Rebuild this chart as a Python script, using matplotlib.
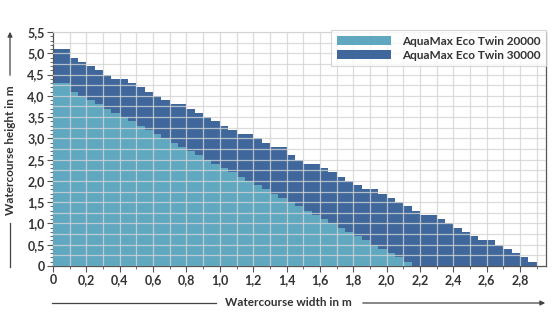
import numpy as np
import matplotlib
matplotlib.use("Agg")
import matplotlib.pyplot as plt
from matplotlib.lines import Line2D
from matplotlib.patches import FancyArrowPatch
from matplotlib.ticker import MultipleLocator, FuncFormatter

plt.rcParams['font.family'] = ['Lato', 'DejaVu Sans']

# step width of the staircase (m)
STEP = 0.05

# AquaMax Eco Twin 20000 - max height per 5 cm width step
twin_20000 = [4.3, 4.3, 4.1, 4.0, 3.9, 3.8, 3.7, 3.6, 3.5, 3.4, 3.3, 3.2, 3.1,
              3.0, 2.9, 2.8, 2.7, 2.6, 2.5, 2.4, 2.3, 2.2, 2.1, 2.0, 1.9, 1.8,
              1.7, 1.6, 1.5, 1.4, 1.3, 1.2, 1.1, 1.0, 0.9, 0.8, 0.7, 0.6, 0.5,
              0.4, 0.3, 0.2, 0.1]

# AquaMax Eco Twin 30000
twin_30000 = [5.1, 5.1, 4.9, 4.8, 4.7, 4.6, 4.5, 4.4, 4.4, 4.3, 4.2, 4.1, 4.0,
              3.9, 3.8, 3.8, 3.7, 3.6, 3.5, 3.4, 3.3, 3.2, 3.1, 3.1, 3.0, 2.9,
              2.8, 2.8, 2.6, 2.5, 2.4, 2.4, 2.3, 2.2, 2.1, 2.0, 1.9, 1.8, 1.8,
              1.7, 1.6, 1.5, 1.4, 1.3, 1.2, 1.2, 1.1, 1.0, 0.9, 0.8, 0.7, 0.6,
              0.6, 0.5, 0.4, 0.3, 0.2, 0.1]

labels = ["AquaMax Eco Twin 20000", "AquaMax Eco Twin 30000"]
x_ticks = [0, 0.2, 0.4, 0.6, 0.8, 1.0, 1.2, 1.4, 1.6, 1.8, 2.0, 2.2, 2.4, 2.6, 2.8]
y_ticks = [0, 0.5, 1.0, 1.5, 2.0, 2.5, 3.0, 3.5, 4.0, 4.5, 5.0, 5.5]

LIGHT = "#5fa8c0"
DARK = "#3f679b"
TXT = "#333333"
ARR = "#444444"


def comma(v, pos=None):
    if abs(v) < 1e-9:
        return "0"
    return f"{v:.1f}".replace(".", ",")


fig = plt.figure(figsize=(5.6, 3.36), dpi=100)
ax = fig.add_axes([53 / 560, 1 - 266 / 336, 493 / 560, 234 / 336])

x30 = np.arange(len(twin_30000)) * STEP
x20 = np.arange(len(twin_20000)) * STEP
b30 = ax.bar(x30, twin_30000, width=STEP, align='edge', color=DARK,
             linewidth=0, zorder=2, label=labels[1])
b20 = ax.bar(x20, twin_20000, width=STEP, align='edge', color=LIGHT,
             linewidth=0, zorder=3, label=labels[0])

ax.set_xlim(0, 2.955)
ax.set_ylim(0, 5.5)

# grid drawn over the bars
for gx in np.arange(0.1, 2.95, 0.1):
    ax.axvline(gx, color="#d4d4d4", lw=0.9, alpha=0.8, zorder=4)
for gy in np.arange(0.25, 5.51, 0.25):
    ax.axhline(gy, color="#d4d4d4", lw=0.9, alpha=0.8, zorder=4)

ax.set_xticks(x_ticks)
ax.set_yticks(y_ticks)
ax.xaxis.set_minor_locator(MultipleLocator(0.1))
ax.yaxis.set_minor_locator(MultipleLocator(0.1))
ax.xaxis.set_major_formatter(FuncFormatter(comma))
ax.yaxis.set_major_formatter(FuncFormatter(comma))
ax.tick_params(which='major', length=4, width=0.8, color="#555555",
               labelsize=9, labelcolor=TXT, pad=2)
ax.tick_params(which='minor', length=2, width=0.6, color="#555555")
for lab in ax.get_xticklabels() + ax.get_yticklabels():
    lab.set_fontweight('bold')

for side in ['left', 'bottom', 'right']:
    ax.spines[side].set_color("#555555")
    ax.spines[side].set_linewidth(0.9)
ax.spines['top'].set_color("#d4d4d4")

leg = ax.legend(handles=[b20, b30], loc='upper right',
                bbox_to_anchor=(1.0, 1.01), frameon=True, fancybox=False,
                fontsize=8.5, handlelength=4.6, handleheight=0.9,
                borderpad=0.5, labelspacing=0.25, handletextpad=0.9,
                borderaxespad=0)
leg.get_frame().set_edgecolor("#cccccc")
leg.get_frame().set_linewidth(0.8)
leg.set_zorder(6)
for t in leg.get_texts():
    t.set_color(TXT)
    t.set_fontweight('bold')

# axis titles with arrows (figure pixels)
W, H = 560, 336
fig.text(288 / W, 1 - 303 / H, "Watercourse width in m", ha='center',
         va='center', fontsize=8.5, fontweight='bold', color=TXT)
fig.add_artist(Line2D([52 / W, 216 / W], [1 - 303 / H] * 2, color=ARR,
                      lw=0.9, transform=fig.transFigure))
fig.add_artist(FancyArrowPatch(
    (360 / W, 1 - 303 / H), (548 / W, 1 - 303 / H), transform=fig.transFigure,
    arrowstyle='-|>', mutation_scale=7, color=ARR, lw=0.9))

fig.text(11 / W, 1 - 150 / H, "Watercourse height in m", ha='center',
         va='center', rotation=90, fontsize=8.5, fontweight='bold', color=TXT)
fig.add_artist(Line2D([10 / W] * 2, [1 - 223 / H, 1 - 267 / H],
                      color=ARR, lw=0.9, transform=fig.transFigure))
fig.add_artist(FancyArrowPatch(
    (10 / W, 1 - 78 / H), (10 / W, 1 - 29 / H), transform=fig.transFigure,
    arrowstyle='-|>', mutation_scale=7, color=ARR, lw=0.9))

fig.savefig("out.png", dpi=100, facecolor="white")
